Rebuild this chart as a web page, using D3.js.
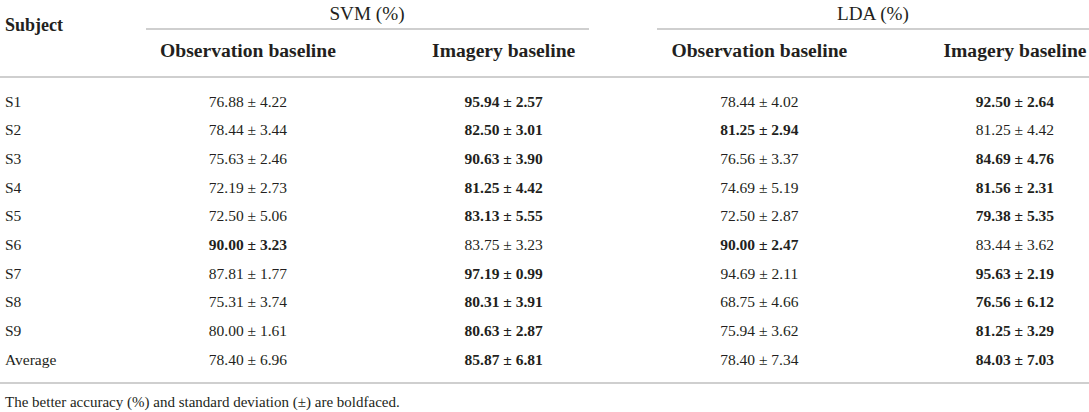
<!DOCTYPE html>
<html>
<head>
<meta charset="utf-8">
<script src="https://cdn.jsdelivr.net/npm/d3@7"></script>
<style>
  html, body { margin: 0; padding: 0; background: #fff; }
  svg { display: block; font-family: "Liberation Serif", "DejaVu Serif", serif; }
  .cell { fill: #231f20; font-size: 15.5px; }
  .cell.bold { font-weight: bold; }
  .head { fill: #231f20; font-weight: bold; font-size: 19.6px; }
  .group { fill: #231f20; font-size: 19.2px; }
  .rule { stroke: #cfcfcf; }
</style>
</head>
<body>
<div id="chart"></div>
<script>
const subjects = ["S1", "S2", "S3", "S4", "S5", "S6", "S7", "S8", "S9", "Average"];

const svmObsMean = [76.88, 78.44, 75.63, 72.19, 72.50, 90.00, 87.81, 75.31, 80.00, 78.40];
const svmObsSd   = [4.22, 3.44, 2.46, 2.73, 5.06, 3.23, 1.77, 3.74, 1.61, 6.96];
const svmImgMean = [95.94, 82.50, 90.63, 81.25, 83.13, 83.75, 97.19, 80.31, 80.63, 85.87];
const svmImgSd   = [2.57, 3.01, 3.90, 4.42, 5.55, 3.23, 0.99, 3.91, 2.87, 6.81];

const ldaObsMean = [78.44, 81.25, 76.56, 74.69, 72.50, 90.00, 94.69, 68.75, 75.94, 78.40];
const ldaObsSd   = [4.02, 2.94, 3.37, 5.19, 2.87, 2.47, 2.11, 4.66, 3.62, 7.34];
const ldaImgMean = [92.50, 81.25, 84.69, 81.56, 79.38, 83.44, 95.63, 76.56, 81.25, 84.03];
const ldaImgSd   = [2.64, 4.42, 4.76, 2.31, 5.35, 3.62, 2.19, 6.12, 3.29, 7.03];

const groups = ["SVM (%)", "LDA (%)"];
const baselines = ["Observation baseline", "Imagery baseline"];
const footnote = "The better accuracy (%) and standard deviation (\u00b1) are boldfaced.";

const width = 1089;
const height = 412;

// better of the two baselines: higher mean, lower sd on a tie
function better(m1, s1, m2, s2) {
    if (m1 !== m2) return m1 > m2 ? 0 : 1;
    return s1 <= s2 ? 0 : 1;
}

function buildCells() {
    const cells = [];
    const pairs = [
        ["svmObs", svmObsMean, svmObsSd, "svmImg", svmImgMean, svmImgSd],
        ["ldaObs", ldaObsMean, ldaObsSd, "ldaImg", ldaImgMean, ldaImgSd],
    ];
    pairs.forEach(([c1, m1, s1, c2, m2, s2]) => {
        subjects.forEach((subj, i) => {
            const b = better(m1[i], s1[i], m2[i], s2[i]);
            cells.push({ col: c1, row: i, text: `${m1[i].toFixed(2)} \u00b1 ${s1[i].toFixed(2)}`, bold: b === 0 });
            cells.push({ col: c2, row: i, text: `${m2[i].toFixed(2)} \u00b1 ${s2[i].toFixed(2)}`, bold: b === 1 });
        });
    });
    return cells;
}

function drawTable() {
    const svg = d3.select("#chart")
        .append("svg")
        .attr("width", width)
        .attr("height", height);

    const xScale = d3.scalePoint()
        .domain(["svmObs", "svmImg", "ldaObs", "ldaImg"])
        .range([248, 1015]);

    const yScale = d3.scaleLinear()
        .domain([0, subjects.length - 1])
        .range([101, 359]);

    const groupX = d3.scalePoint()
        .domain(groups)
        .range([367, 873]);

    // rules
    svg.append("line").attr("class", "rule")
        .attr("x1", 146).attr("x2", 589).attr("y1", 29).attr("y2", 29)
        .attr("stroke-width", 2);
    svg.append("line").attr("class", "rule")
        .attr("x1", 657).attr("x2", width).attr("y1", 29).attr("y2", 29)
        .attr("stroke-width", 2);
    svg.append("line").attr("class", "rule")
        .attr("x1", 0).attr("x2", width).attr("y1", 77).attr("y2", 77)
        .attr("stroke-width", 2);
    svg.append("line").attr("class", "rule")
        .attr("x1", 0).attr("x2", width).attr("y1", 383).attr("y2", 383)
        .attr("stroke-width", 2);

    // header
    svg.append("text").attr("class", "head")
        .attr("x", 5).attr("y", 25)
        .attr("dominant-baseline", "central")
        .style("font-size", "18px")
        .text("Subject");

    svg.selectAll(".group")
        .data(groups)
        .join("text")
        .attr("class", "group")
        .attr("x", (d) => groupX(d))
        .attr("y", 13)
        .attr("text-anchor", "middle")
        .attr("dominant-baseline", "central")
        .text((d) => d);

    svg.selectAll(".sub")
        .data(xScale.domain())
        .join("text")
        .attr("class", "head sub")
        .attr("x", (d) => xScale(d))
        .attr("y", 50)
        .attr("text-anchor", "middle")
        .attr("dominant-baseline", "central")
        .text((d, i) => baselines[i % 2]);

    // body
    svg.selectAll(".label")
        .data(subjects)
        .join("text")
        .attr("class", "cell label")
        .attr("x", 5)
        .attr("y", (d, i) => yScale(i))
        .attr("dominant-baseline", "central")
        .text((d) => d);

    svg.selectAll(".val")
        .data(buildCells())
        .join("text")
        .attr("class", (d) => d.bold ? "cell val bold" : "cell val")
        .attr("x", (d) => xScale(d.col))
        .attr("y", (d) => yScale(d.row))
        .attr("text-anchor", "middle")
        .attr("dominant-baseline", "central")
        .text((d) => d.text);

    svg.append("text")
        .attr("class", "cell")
        .attr("x", 5).attr("y", 402)
        .attr("dominant-baseline", "central")
        .style("font-size", "15px")
        .text(footnote);
}

document.addEventListener("DOMContentLoaded", drawTable);
</script>
</body>
</html>
